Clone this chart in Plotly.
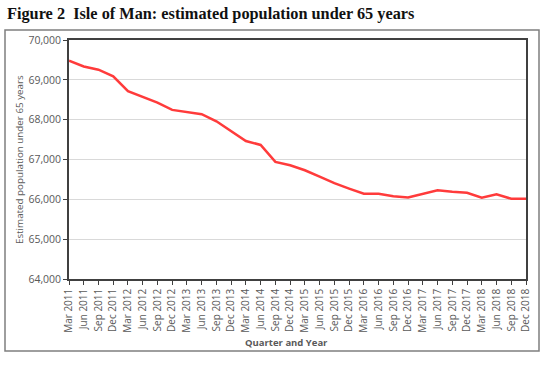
import plotly.graph_objects as go

quarters = [f"{m} {y}" for y in range(2011, 2019) for m in ["Mar", "Jun", "Sep", "Dec"]]
population = [69480, 69335, 69255, 69090, 68715, 68565, 68430, 68245,
              68200, 68137, 67960, 67720, 67465, 67365, 66940, 66855,
              66730, 66570, 66405, 66270, 66140, 66140, 66075, 66045,
              66140, 66225, 66190, 66165, 66040, 66125, 66015, 66015]
y_ticks = [64000, 65000, 66000, 67000, 68000, 69000, 70000]

W, H = 544, 369
L, R, T, B = 69, 526, 40, 279
pw, ph = R - L, B - T

def px(x):
    return (x - L) / pw

def py(y):
    return (B - y) / ph

axis_font = dict(family="Open Sans", size=10, color="#595959")

fig = go.Figure()
fig.add_trace(go.Scatter(x=quarters, y=population, mode="lines",
                         line=dict(color="#ff3b3b", width=2.5),
                         showlegend=False, hoverinfo="x+y"))

fig.update_layout(
    width=W, height=H,
    margin=dict(l=L, r=W - R, t=T, b=H - B),
    paper_bgcolor="white", plot_bgcolor="white",
    title=dict(text="<b>Figure 2  Isle of Man: estimated population under 65 years</b>",
               font=dict(family="Liberation Serif", size=16.3, color="#111111"),
               xref="container", yref="container", x=7 / W, xanchor="left",
               y=1 - 8 / H, yanchor="top"),
    xaxis=dict(type="category", range=[0, len(quarters) - 1],
               showgrid=False, showline=True, linecolor="#404040", linewidth=1.5,
               mirror=True, ticks="outside", ticklen=4, tickcolor="#404040",
               tickangle=-90, tickfont=axis_font, zeroline=False),
    yaxis=dict(range=[64000, 70000], tickvals=y_ticks, tickformat=",d",
               showgrid=True, gridcolor="#d9d9d9", gridwidth=1,
               showline=True, linecolor="#404040", linewidth=1.5, mirror=True,
               ticks="outside", ticklen=4, tickcolor="#404040",
               tickfont=dict(family="Open Sans", size=10.5, color="#595959"),
               zeroline=False),
    shapes=[dict(type="rect", xref="paper", yref="paper",
                 x0=px(5), x1=px(539), y0=py(351), y1=py(30),
                 line=dict(color="#7f7f7f", width=1.5), layer="below")],
    annotations=[
        dict(text="Estimated population under 65 years", xref="paper", yref="paper",
             x=px(19), y=py(160), textangle=-90, showarrow=False,
             font=dict(family="Open Sans", size=9.8, color="#595959"),
             xanchor="center", yanchor="middle"),
        dict(text="<b>Quarter and Year</b>", xref="paper", yref="paper",
             x=px(286), y=py(342), showarrow=False,
             font=dict(family="Open Sans", size=9.5, color="#595959"),
             xanchor="center", yanchor="middle"),
    ],
)

fig.write_html("out.html", config={"displayModeBar": False},
               post_script="document.body.style.margin='0';document.body.style.padding='0';")
